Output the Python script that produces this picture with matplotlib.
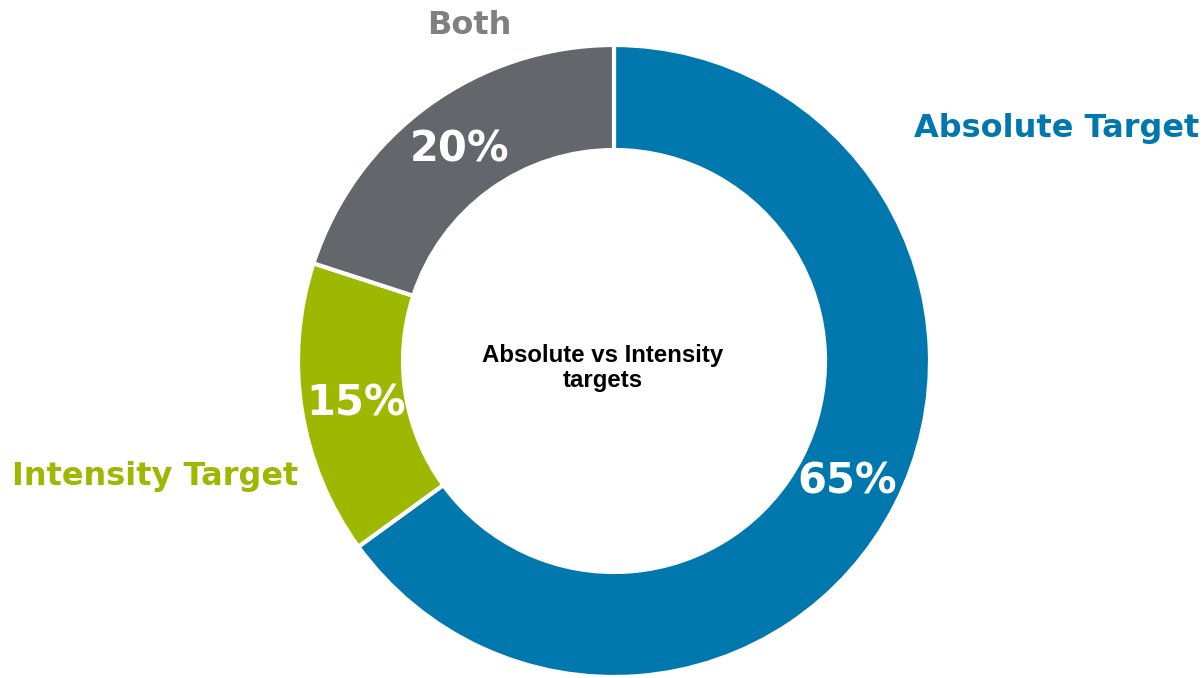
import matplotlib.pyplot as plt

# target type shares
categories = ['Absolute Target', 'Intensity Target', 'Both']
shares = [65, 15, 20]
colors = ['#0078ae', '#9cb800', '#63666a']
label_colors = ['#0078ae', '#9cb800', '#808080']

fig = plt.figure(figsize=(12.03, 6.78), dpi=100)
ax = fig.add_axes([0, 0, 1, 1])
ax.set_xlim(0, 1203)
ax.set_ylim(0, 678)
ax.set_aspect('equal')
ax.axis('off')

cx, cy = 614, 678 - 361
outer = 316
ring = 105

wedges, _ = ax.pie(shares, colors=colors, startangle=90, counterclock=False,
                   center=(cx, cy), radius=outer,
                   wedgeprops=dict(width=ring, edgecolor='white', linewidth=3))
ax.set_xlim(0, 1203)
ax.set_ylim(0, 678)

# percent labels inside the ring
pct_pos = [(847, 678 - 482), (356, 678 - 403), (460, 678 - 150)]
for v, (x, y) in zip(shares, pct_pos):
    ax.text(x, y, f'{v}%', color='white', fontsize=30, fontweight='bold',
            ha='center', va='center', family='DejaVu Sans')

# category labels outside
cat_pos = [(1057, 678 - 128), (155, 678 - 477), (469, 678 - 25)]
for name, c, (x, y) in zip(categories, label_colors, cat_pos):
    ax.text(x, y, name, color=c, fontsize=23, fontweight='bold',
            ha='center', va='center', family='DejaVu Sans')

ax.text(603, 678 - 368, 'Absolute vs Intensity\ntargets', color='black',
        fontsize=17.3, fontweight='bold', ha='center', va='center',
        family='Liberation Sans', linespacing=1.1)

plt.savefig('out.png', dpi=100)
